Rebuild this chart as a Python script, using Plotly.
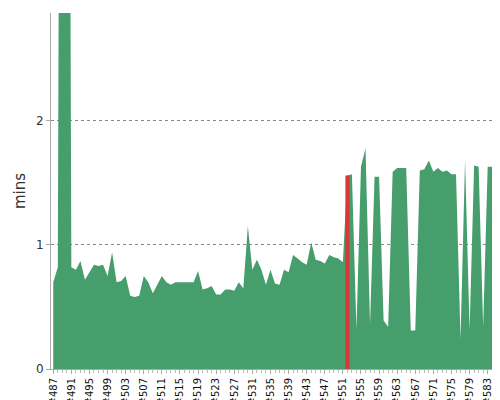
import plotly.graph_objects as go

builds = [f"#{n}" for n in range(487, 586)]
durations = [
    0.70, 0.82, 12.0, 12.0, 0.82, 0.80, 0.87, 0.72, 0.78, 0.84,
    0.83, 0.84, 0.75, 0.94, 0.70, 0.71, 0.75, 0.59, 0.58, 0.59,
    0.75, 0.70, 0.61, 0.68, 0.75, 0.70, 0.68, 0.70, 0.70, 0.70,
    0.70, 0.70, 0.79, 0.64, 0.65, 0.67, 0.60, 0.60, 0.64, 0.64,
    0.63, 0.70, 0.65, 1.15, 0.80, 0.88, 0.80, 0.68, 0.80, 0.69,
    0.68, 0.80, 0.78, 0.92, 0.89, 0.86, 0.84, 1.02, 0.88, 0.87,
    0.85, 0.92, 0.90, 0.89, 0.86, 1.56, 1.57, 0.32, 1.63, 1.78,
    0.36, 1.55, 1.55, 0.39, 0.34, 1.59, 1.62, 1.62, 1.62, 0.31,
    0.31, 1.60, 1.61, 1.68, 1.59, 1.62, 1.59, 1.60, 1.57, 1.57,
    0.24, 1.69, 0.31, 1.64, 1.63, 0.34, 1.63, 1.63, 0.26,
]
highlight_build = "#552"
highlight_value = 1.56

fig = go.Figure()
fig.add_trace(go.Scatter(
    x=builds, y=durations, mode="lines", fill="tozeroy",
    line=dict(width=0, color="#469e6c"), fillcolor="#469e6c",
    hoverinfo="x+y",
))
# the selected build, drawn as a thick vertical stroke above the area
fig.add_trace(go.Scatter(
    x=[highlight_build, highlight_build], y=[0, highlight_value],
    mode="lines", line=dict(width=4, color="#d9383a"), hoverinfo="skip",
))

fig.update_layout(
    width=500, height=400, showlegend=False,
    margin=dict(l=43, r=9, t=5, b=39),
    paper_bgcolor="white", plot_bgcolor="white",
    font=dict(family="DejaVu Sans", size=10, color="#222"),
)
fig.update_xaxes(
    type="category", range=[-0.5, len(builds) - 0.5], automargin=False,
    tickmode="array", tickvals=builds[::4], ticktext=builds[::4],
    tickangle=-90, ticks="outside", ticklen=4, tickcolor="#aaa",
    minor=dict(ticks="outside", ticklen=3, tickcolor="#bbb", dtick=1),
    showline=True, linecolor="#aaa", showgrid=False,
    tickfont=dict(size=10, color="#111"),
)
fig.update_yaxes(
    range=[0, 2.87], tickvals=[0, 1, 2], showgrid=True, automargin=False,
    gridcolor="#888", griddash="dot", gridwidth=1,
    showline=True, linecolor="#aaa", zeroline=False,
    ticks="outside", ticklen=4, tickcolor="#aaa",
    title=dict(text="mins", font=dict(size=15, color="#333"), standoff=6),
    tickfont=dict(size=12, color="#333"),
)
fig.write_html("out.html")
